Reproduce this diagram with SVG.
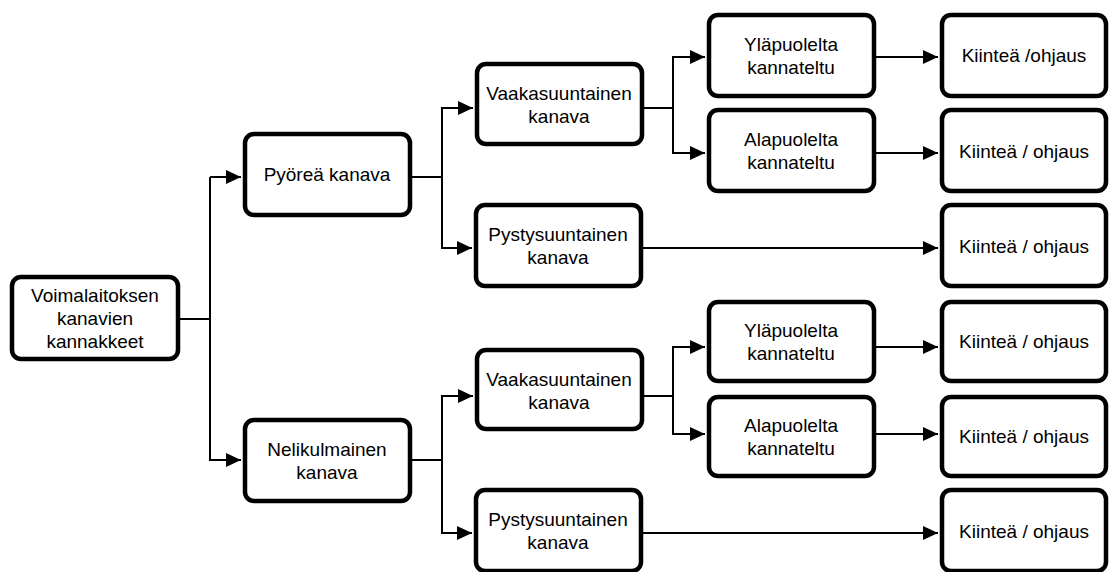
<svg xmlns="http://www.w3.org/2000/svg" width="1113" height="572" viewBox="0 0 1113 572">
<defs>
<marker id="arr" markerUnits="userSpaceOnUse" markerWidth="16" markerHeight="16" refX="15" refY="7" orient="auto">
<path d="M0,0 L15,7 L0,14 Z" fill="#000"/>
</marker>
<style>
.box{fill:#fff;stroke:#000;stroke-width:4.5}
.t{font-family:"Liberation Sans",Arial,sans-serif;font-size:19px;fill:#000;text-anchor:middle}
.c{fill:none;stroke:#000;stroke-width:2}
.a{fill:none;stroke:#000;stroke-width:2;marker-end:url(#arr)}
</style>
</defs>
<rect width="1113" height="572" fill="#fff"/>
<g id="connectors">
<path class="c" d="M180,319 H210"/>
<path class="a" d="M210,177 V177 H241"/>
<path class="a" d="M210,319 V460 H241"/>
<path class="c" d="M210,177 V319"/>
<path class="c" d="M412,177 H442"/>
<path class="a" d="M442,177 V108 H473"/>
<path class="a" d="M442,177 V248 H472"/>
<path class="c" d="M644,108 H673"/>
<path class="a" d="M673,108 V57 H705"/>
<path class="a" d="M673,108 V153 H705"/>
<path class="a" d="M876,57 H938"/>
<path class="a" d="M876,153 H938"/>
<path class="a" d="M643,248 H938"/>
<path class="c" d="M412,460 H442"/>
<path class="a" d="M442,460 V396 H473"/>
<path class="a" d="M442,460 V533 H472"/>
<path class="c" d="M644,396 H673"/>
<path class="a" d="M673,396 V347 H705"/>
<path class="a" d="M673,396 V434 H705"/>
<path class="a" d="M876,347 H938"/>
<path class="a" d="M876,434 H938"/>
<path class="a" d="M643,533 H938"/>
</g>
<g id="root"><rect class="box" x="12" y="277" width="166" height="82" rx="9"/>
<text class="t" x="95" y="302">Voimalaitoksen</text><text class="t" x="95" y="325">kanavien</text><text class="t" x="95" y="348">kannakkeet</text></g>
<g id="pyorea"><rect class="box" x="245" y="134" width="165" height="81" rx="9"/>
<text class="t" x="327" y="181">Pyöreä kanava</text></g>
<g id="vaaka1"><rect class="box" x="477" y="64" width="165" height="80" rx="9"/>
<text class="t" x="559" y="100">Vaakasuuntainen</text><text class="t" x="559" y="123">kanava</text></g>
<g id="yla1"><rect class="box" x="709" y="15" width="165" height="81" rx="9"/>
<text class="t" x="791" y="51">Yläpuolelta</text><text class="t" x="791" y="74">kannateltu</text></g>
<g id="ala1"><rect class="box" x="709" y="110" width="165" height="81" rx="9"/>
<text class="t" x="791" y="146">Alapuolelta</text><text class="t" x="791" y="169">kannateltu</text></g>
<g id="k1"><rect class="box" x="942" y="15" width="164" height="81" rx="9"/>
<text class="t" x="1024" y="62">Kiinteä /ohjaus</text></g>
<g id="k2"><rect class="box" x="942" y="110" width="164" height="81" rx="9"/>
<text class="t" x="1024" y="158">Kiinteä / ohjaus</text></g>
<g id="pysty1"><rect class="box" x="476" y="205" width="165" height="81" rx="9"/>
<text class="t" x="558" y="241">Pystysuuntainen</text><text class="t" x="558" y="264">kanava</text></g>
<g id="k3"><rect class="box" x="942" y="205" width="164" height="81" rx="9"/>
<text class="t" x="1024" y="253">Kiinteä / ohjaus</text></g>
<g id="neli"><rect class="box" x="245" y="420" width="165" height="81" rx="9"/>
<text class="t" x="327" y="456">Nelikulmainen</text><text class="t" x="327" y="479">kanava</text></g>
<g id="vaaka2"><rect class="box" x="477" y="350" width="165" height="79" rx="9"/>
<text class="t" x="559" y="386">Vaakasuuntainen</text><text class="t" x="559" y="409">kanava</text></g>
<g id="yla2"><rect class="box" x="709" y="302" width="165" height="79" rx="9"/>
<text class="t" x="791" y="337">Yläpuolelta</text><text class="t" x="791" y="360">kannateltu</text></g>
<g id="ala2"><rect class="box" x="709" y="397" width="165" height="79" rx="9"/>
<text class="t" x="791" y="432">Alapuolelta</text><text class="t" x="791" y="455">kannateltu</text></g>
<g id="k4"><rect class="box" x="942" y="302" width="164" height="79" rx="9"/>
<text class="t" x="1024" y="348">Kiinteä / ohjaus</text></g>
<g id="k5"><rect class="box" x="942" y="397" width="164" height="79" rx="9"/>
<text class="t" x="1024" y="443">Kiinteä / ohjaus</text></g>
<g id="pysty2"><rect class="box" x="476" y="490" width="165" height="81" rx="9"/>
<text class="t" x="558" y="526">Pystysuuntainen</text><text class="t" x="558" y="549">kanava</text></g>
<g id="k6"><rect class="box" x="942" y="490" width="164" height="81" rx="9"/>
<text class="t" x="1024" y="538">Kiinteä / ohjaus</text></g>
</svg>
